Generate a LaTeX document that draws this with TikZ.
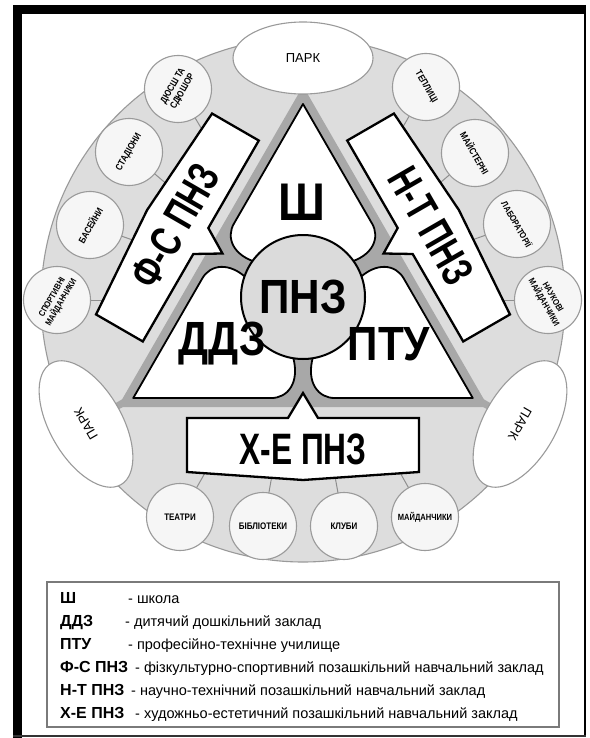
\documentclass[tikz,border=0pt]{standalone}
\usepackage{fontspec}
\setmainfont{Liberation Sans}
\newfontfamily\boxfont[FakeStretch=0.72]{Liberation Sans}
\newfontfamily\midfont[FakeStretch=0.88]{Liberation Sans}
\newfontfamily\smallfont[FakeStretch=0.84]{Liberation Sans}
\usetikzlibrary{shapes.geometric,calc}
\pgfdeclarelayer{back}
\pgfsetlayers{back,main}
\definecolor{bigfill}{HTML}{DDDDDD}
\definecolor{ringline}{HTML}{9A9A9A}
\definecolor{smallfill}{HTML}{F6F6F6}
\definecolor{midgray}{HTML}{A8A8A8}
\definecolor{pnzfill}{HTML}{DBDBDB}
\definecolor{legline}{HTML}{7A7A7A}
\definecolor{connc}{HTML}{8E8E8E}
\tikzset{
  ring/.style={circle, draw=ringline, fill=smallfill, line width=1.1pt, minimum size=67pt, inner sep=0pt, align=center, font=\fontsize{9.5}{11}\smallfont\bfseries},
  parkE/.style={ellipse, draw=ringline, fill=white, line width=1.1pt, minimum width=140pt, minimum height=72pt, inner sep=0pt, font=\fontsize{13}{14}\selectfont},
  conn/.style={draw=connc, line width=1pt},
  stripe/.style={draw=midgray, line width=7pt},
  petal/.style={fill=white, draw=black, line width=1.8pt, line join=round},
  boxshape/.style={fill=white, draw=black, line width=2.3pt, line join=miter},
  boxlabel/.style={inner sep=0pt, font=\fontsize{44}{44}\boxfont\bfseries},
  petallabel/.style={inner sep=0pt, font=\fontsize{48}{48}\midfont\bfseries},
  legB/.style={anchor=base west, inner sep=0pt, font=\fontsize{16}{16}\selectfont\bfseries},
  legR/.style={anchor=base west, inner sep=0pt, font=\fontsize{14.5}{16}\selectfont}
}
\begin{document}
\begin{tikzpicture}[x=1pt,y=-1pt]
\useasboundingbox (0,0) rectangle (589,738);
\begin{pgfonlayer}{back}
\fill[white] (0,0) rectangle (589,738);
\fill[black] (13,5) rectangle (586,14);
\fill[black] (13,5) rectangle (22,738);
\draw[black, line width=2pt] (585,5) -- (585,737);
\draw[black!80, line width=1.5pt] (13,736) -- (586,736);
\coordinate (G) at (303,300);
\coordinate (GC) at (303,297);
\fill[bigfill] (G) circle[radius=262pt];
\draw[ringline, line width=1.1pt] (G) circle[radius=262pt];
\end{pgfonlayer}

% grey triangle
\fill[midgray] (303,86) -- (117.7,407) -- (488.3,407) -- cycle;
% petals
\foreach \a in {0,120,-120}{
  \begin{scope}[shift={(G)},rotate=\a]
    \draw[petal] (0,-196) -- (-69,-76.5) .. controls (-77,-63) and (-71,-44) .. (-44,-37)
      -- (0,-20) -- (44,-37) .. controls (71,-44) and (77,-63) .. (69,-76.5) -- cycle;
  \end{scope}
}
% centre circle
\node[circle, draw=black, fill=pnzfill, line width=2pt, minimum size=124pt, inner sep=0pt,
  font=\fontsize{48}{48}\midfont\bfseries] (pnz) at (GC) {ПНЗ};
% boxes
\foreach \a in {0,120,-120}{
  \begin{scope}[shift={(G)},rotate=\a]
    \draw[boxshape] (-116,118) -- (-15,118) -- (0,93) -- (15,118) -- (116,118) -- (116,172)
      -- (0,180) -- (-116,172) -- cycle;
  \end{scope}
}
\begin{scope}[shift={(G)},rotate=-120]
  \node[boxlabel, rotate=60] (fsT) at (0,148) {Ф-С ПНЗ};
\end{scope}
\begin{scope}[shift={(G)},rotate=120]
  \node[boxlabel, rotate=-60] (ntT) at (0,148) {Н-Т ПНЗ};
\end{scope}
\node[boxlabel] (xeT) at (303,449) {Х-Е ПНЗ};

% petal labels
\node[petallabel, font=\fontsize{53}{53}\midfont\bfseries] (sh) at (302,202) {Ш};
\node[petallabel] (ddz) at (222,344) {ДДЗ};
\node[petallabel] (ptu) at (389,344) {ПТУ};

% small circles
\node[ring, rotate=60] (dyussh) at (178,89) {ДЮСШ ТА\\СДЮШОР};
\node[ring, rotate=60] (stad) at (129,152) {СТАДІОНИ};
\node[ring, rotate=60] (bas) at (90,225) {БАСЕЙНИ};
\node[ring, rotate=60, font=\fontsize{8.8}{10.5}\smallfont\bfseries] (sport) at (57,300) {СПОРТИВНІ\\МАЙДАНЧИКИ};
\node[ring, rotate=-60] (tepl) at (426,87) {ТЕПЛИЦІ};
\node[ring, rotate=-60] (maist) at (475,153) {МАЙСТЕРНІ};
\node[ring, rotate=-60, font=\fontsize{9}{10.5}\smallfont\bfseries] (lab) at (517,224) {ЛАБОРАТОРІЇ};
\node[ring, rotate=-60, font=\fontsize{8.8}{10.5}\smallfont\bfseries] (nauk) at (548,300) {НАУКОВІ\\МАЙДАНЧИКИ};
\node[ring] (teat) at (180,517) {ТЕАТРИ};
\node[ring] (bibl) at (263,526) {БІБЛІОТЕКИ};
\node[ring] (klub) at (344,526) {КЛУБИ};
\node[ring, font=\fontsize{9}{10.5}\smallfont\bfseries] (maid) at (425,517) {МАЙДАНЧИКИ};
% parks
\node[parkE] (parkT) at (303,58) {ПАРК};
\node[parkE, rotate=120] (parkL) at (86,424) {ПАРК};
\node[parkE, rotate=-120] (parkR) at (520,424) {ПАРК};

\begin{pgfonlayer}{back}
\foreach \c in {dyussh,stad,bas,sport,tepl,maist,lab,nauk,teat,bibl,klub,maid}{
  \draw[conn] (\c.center) -- ($(\c.center)!0.33!(G)$);
}
\draw[stripe] (G) -- (parkT.center);
\draw[stripe] (G) -- (parkL.center);
\draw[stripe] (G) -- (parkR.center);
\end{pgfonlayer}

% legend
\draw[legline, line width=1.3pt, fill=white] (47,582) rectangle (559,727);
\node[legB] (l1a) at (60,603) {Ш};
\node[legR] (l1b) at (128,603) {- школа};
\node[legB] (l2a) at (60,626) {ДДЗ};
\node[legR] (l2b) at (125,626) {- дитячий дошкільний заклад};
\node[legB] (l3a) at (60,649) {ПТУ};
\node[legR] (l3b) at (128,649) {- професійно-технічне училище};
\node[legB] (l4a) at (60,672) {Ф-С ПНЗ};
\node[legR] (l4b) at (135,672) {- фізкультурно-спортивний позашкільний навчальний заклад};
\node[legB] (l5a) at (60,695) {Н-Т ПНЗ};
\node[legR] (l5b) at (131,695) {- научно-технічний позашкільний навчальний заклад};
\node[legB] (l6a) at (60,718) {Х-Е ПНЗ};
\node[legR] (l6b) at (135,718) {- художньо-естетичний позашкільний навчальний заклад};
\end{tikzpicture}
\end{document}
